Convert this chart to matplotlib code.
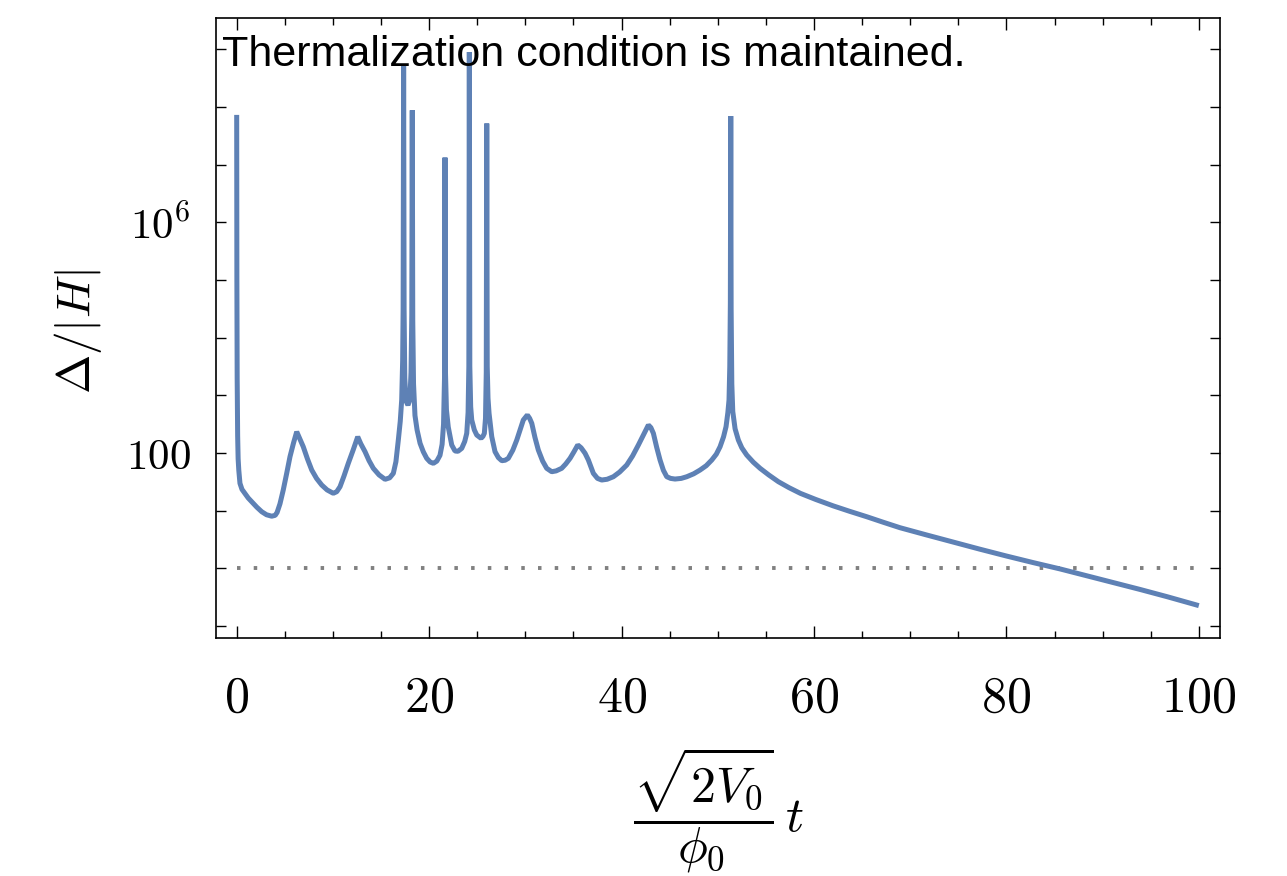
import numpy as np
import matplotlib
matplotlib.use("Agg")
import matplotlib.pyplot as plt
from matplotlib.ticker import FixedLocator, FixedFormatter, NullFormatter, MultipleLocator

plt.rcParams['mathtext.fontset'] = 'cm'
plt.rcParams['font.family'] = ['Liberation Sans', 'DejaVu Sans']

# time in units of sqrt(2 V0)/phi0
t = [0.0, 0.02, 0.05, 0.10, 0.15, 0.22, 0.34, 0.55, 0.86, 1.2, 1.56, 2.1, 2.60, 3.1,
     3.64, 4.0, 4.2, 4.5, 4.84, 5.2, 5.54, 5.9, 6.24, 6.5, 6.92, 7.35, 7.80, 8.3,
     8.84, 9.4, 10.04, 10.4, 10.74, 11.15, 11.60, 12.1, 12.58, 12.9, 13.34, 13.75,
     14.20, 14.8, 15.42, 15.9, 16.28, 16.55, 16.80, 17.0, 17.15, 17.25, 17.30, 17.35,
     17.40, 17.47, 17.6, 17.8, 18.0, 18.12, 18.20, 18.25, 18.30, 18.38, 18.53, 18.75,
     19.06, 19.4, 19.75, 20.1, 20.44, 20.8, 21.13, 21.35, 21.50, 21.60, 21.65, 21.70,
     21.80, 21.99, 22.35, 22.69, 23.0, 23.39, 23.7, 23.91, 24.05, 24.13, 24.18, 24.23,
     24.32, 24.43, 24.7, 24.95, 25.40, 25.6, 25.74, 25.86, 25.94, 25.99, 26.04, 26.12,
     26.23, 26.51, 26.85, 27.2, 27.55, 27.9, 28.23, 28.7, 29.11, 29.45, 29.79, 30.21,
     30.45, 30.67, 31.0, 31.35, 31.8, 32.22, 32.74, 33.2, 33.78, 34.2, 34.65, 35.05,
     35.45, 35.8, 36.21, 36.55, 37.07, 37.5, 37.94, 38.5, 39.15, 39.8, 40.54, 41.15,
     41.75, 42.3, 42.79, 43.05, 43.31, 43.65, 44.0, 44.35, 44.70, 45.1, 45.56, 46.2,
     46.78, 47.5, 48.16, 48.8, 49.38, 49.85, 50.24, 50.6, 50.86, 51.05, 51.17, 51.25,
     51.31, 51.35, 51.39, 51.46, 51.56, 51.8, 52.14, 52.5, 53.01, 53.7, 54.40, 55.3,
     56.30, 57.4, 58.60, 60.2, 62.0, 63.7, 65.5, 67.2, 68.95, 71.7, 74.5, 77.2, 80.0,
     82.8, 85.6, 88.3, 91.1, 93.9, 96.7, 100.0]
# log10(Delta/|H|)
log_ratio = [7.86, 5.0, 3.3, 2.3, 1.9, 1.7, 1.475, 1.37, 1.30, 1.22, 1.156, 1.06,
             0.983, 0.93, 0.905, 0.92, 0.97, 1.12, 1.359, 1.65, 1.936, 2.17, 2.369,
             2.27, 2.109, 1.90, 1.705, 1.56, 1.445, 1.36, 1.302, 1.33, 1.416, 1.60,
             1.821, 2.05, 2.282, 2.16, 2.023, 1.87, 1.735, 1.62, 1.544, 1.57, 1.648,
             1.85, 2.225, 2.55, 2.918, 3.6, 4.5, 8.72, 4.5, 3.3, 2.9, 2.83, 2.92, 3.4,
             4.4, 7.94, 4.3, 3.2, 2.65, 2.40, 2.168, 2.02, 1.908, 1.845, 1.821, 1.86,
             1.96, 2.15, 2.5, 3.3, 7.12, 3.4, 2.75, 2.45, 2.139, 2.035, 2.03, 2.081,
             2.20, 2.341, 2.7, 3.5, 8.95, 3.5, 2.8, 2.572, 2.40, 2.312, 2.255, 2.29,
             2.341, 2.6, 3.4, 7.71, 3.5, 2.95, 2.688, 2.283, 2.023, 1.92, 1.867, 1.875,
             1.908, 2.05, 2.225, 2.40, 2.572, 2.659, 2.60, 2.515, 2.27, 2.052, 1.86,
             1.735, 1.676, 1.69, 1.735, 1.81, 1.908, 2.02, 2.139, 2.09, 1.995, 1.879,
             1.648, 1.56, 1.532, 1.545, 1.589, 1.67, 1.792, 1.95, 2.139, 2.32, 2.485,
             2.44, 2.341, 2.10, 1.879, 1.70, 1.589, 1.56, 1.549, 1.56, 1.589, 1.64,
             1.705, 1.78, 1.879, 1.98, 2.109, 2.28, 2.456, 2.70, 2.919, 3.5, 4.6, 7.84,
             4.5, 3.2, 2.72, 2.42, 2.225, 2.09, 1.965, 1.84, 1.735, 1.62, 1.503, 1.40,
             1.30, 1.194, 1.084, 0.99, 0.895, 0.80, 0.705, 0.58, 0.455, 0.335, 0.215,
             0.10, -0.01, -0.125, -0.245, -0.365, -0.49, -0.645]
ratio = 10.0 ** np.array(log_ratio)

threshold = 1.0
y_major = [1e2, 1e6]
y_major_labels = [r'$100$', r'$10^{6}$']
y_minor = [10.0 ** k for k in range(-1, 10) if k not in (2, 6)]
x_major = [0, 20, 40, 60, 80, 100]

fig = plt.figure(figsize=(12.87, 8.76), dpi=100)
W, H = 1287, 876
ax = fig.add_axes([216 / W, 1 - 638 / H, (1220 - 216) / W, (638 - 17.5) / H])

ax.hlines(threshold, t[0], t[-1], colors='#808080', lw=2.8,
          linestyles=(0, (0.9, 3.4)))
ax.plot(t, ratio, color='#5E81B5', lw=3.6, solid_joinstyle='bevel',
        solid_capstyle='butt', zorder=3)

ax.set_yscale('log')
ax.set_ylim(10 ** -1.206, 10 ** 9.548)
ax.set_xlim(-2.15, 102.2)

ax.yaxis.set_major_locator(FixedLocator(y_major))
ax.yaxis.set_major_formatter(FixedFormatter(y_major_labels))
ax.yaxis.set_minor_locator(FixedLocator(y_minor))
ax.yaxis.set_minor_formatter(NullFormatter())
ax.xaxis.set_major_locator(FixedLocator(x_major))
ax.xaxis.set_major_formatter(FixedFormatter([rf'${v}$' for v in x_major]))
ax.xaxis.set_minor_locator(MultipleLocator(5))

for s in ax.spines.values():
    s.set_linewidth(1.2)
ax.tick_params(axis='both', which='both', direction='in', top=True, right=True,
               width=1.0)
ax.tick_params(axis='x', which='major', length=8.3, pad=27, labelsize=36)
ax.tick_params(axis='x', which='minor', length=4.9)
ax.tick_params(axis='y', which='both', length=7.2, pad=18, labelsize=31)

fig.text(222 / W, 1 - 66.5 / H, 'Thermalization condition is maintained.',
         fontsize=31, family=['Liberation Sans', 'DejaVu Sans'],
         ha='left', va='baseline', color='black', zorder=5)

fig.text(78 / W, 1 - 332 / H, r'$\Delta/|H|$', fontsize=34, rotation=90,
         ha='center', va='center')
fig.text(718 / W, 1 - 810 / H, r'$\dfrac{\sqrt{2V_0}}{\phi_0}\,t$', fontsize=36,
         ha='center', va='center')

fig.savefig('out.png', dpi=100)
